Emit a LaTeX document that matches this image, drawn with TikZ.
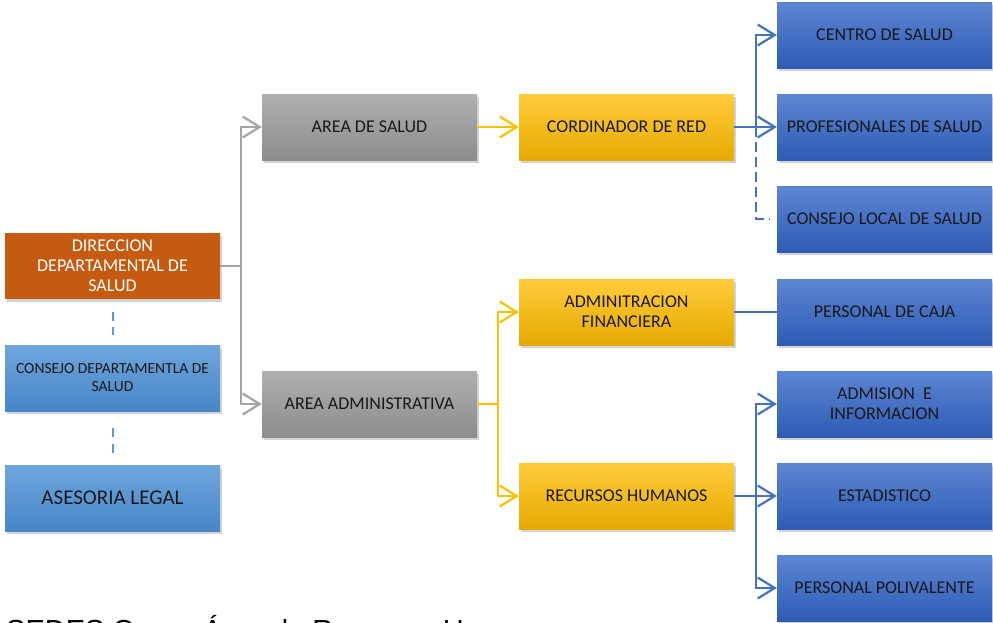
\documentclass[tikz,border=0pt]{standalone}
\usepackage{fontspec}
\setmainfont{Carlito}
\newfontfamily\piefont{Liberation Sans}
\usetikzlibrary{arrows.meta,shadows}

\definecolor{naranja}{HTML}{C55A11}
\definecolor{grisA}{HTML}{B0B0B0}
\definecolor{grisB}{HTML}{8C8C8C}
\definecolor{oroA}{HTML}{FFCB3A}
\definecolor{oroM}{HTML}{FFC000}
\definecolor{oroB}{HTML}{E5AB00}
\definecolor{azulA}{HTML}{5D86D3}
\definecolor{azulM}{HTML}{4472C4}
\definecolor{azulB}{HTML}{2E5BB5}
\definecolor{celesteA}{HTML}{6FA6DD}
\definecolor{celesteB}{HTML}{4786C8}
\definecolor{lineagris}{HTML}{A5A5A5}
\definecolor{lineaazul}{HTML}{4472C4}
\definecolor{lineaceleste}{HTML}{5B9BD5}

\begin{document}
\begin{tikzpicture}[x=1pt,y=-1pt,
	caja/.style={minimum width=215pt,minimum height=66pt,inner sep=2pt,align=center,
		text=black!90,font=\fontsize{18}{20}\selectfont,
		drop shadow={shadow xshift=2pt,shadow yshift=-3pt,opacity=0.35}},
	cajagris/.style={caja,top color=grisA,bottom color=grisB},
	cajaoro/.style={caja,top color=oroA,middle color=oroM,bottom color=oroB},
	cajaazul/.style={caja,top color=azulA,middle color=azulM,bottom color=azulB},
	cajaceleste/.style={caja,top color=celesteA,bottom color=celesteB},
	flecha/.style={-{Straight Barb[length=17pt,width=21pt,line width=2.2pt]}},
	lgris/.style={draw=lineagris,line width=2.2pt},
	loro/.style={draw=oroM,line width=2.2pt},
	lazul/.style={draw=lineaazul,line width=2.2pt}
]
\useasboundingbox (0,0) rectangle (993,622);
\clip (0,0) rectangle (993,622);

% columna izquierda
\node[caja,fill=naranja,text=white] (dir) at (112.5,266) {DIRECCION\\DEPARTAMENTAL DE\\SALUD};
\node[cajaceleste,font=\fontsize{15.5}{18}\selectfont] (cdep) at (112.5,378) {CONSEJO DEPARTAMENTLA DE\\SALUD};
\node[cajaceleste,font=\fontsize{21}{24}\selectfont] (legal) at (112.5,498) {ASESORIA LEGAL};

\draw[lineaceleste,line width=2pt,dash pattern=on 9pt off 6pt] ([yshift=-13pt]dir.south) -- ([yshift=10pt]cdep.north);
\draw[lineaceleste,line width=2pt,dash pattern=on 9pt off 7pt] ([yshift=-17pt]cdep.south) -- ([yshift=12pt]legal.north);

% areas
\node[cajagris] (asalud) at (369.5,127) {AREA DE SALUD};
\node[cajagris] (aadm) at (369.5,404) {AREA ADMINISTRATIVA};

\draw[lgris] (dir.east) -- ++(21,0) coordinate (g1);
\foreach \n in {asalud,aadm} {
	\draw[lgris,flecha] (g1) |- (\n.west);
}

% coordinaciones
\node[cajaoro] (coord) at (626.5,127) {CORDINADOR DE RED};
\node[cajaoro] (finan) at (626.5,312) {ADMINITRACION\\FINANCIERA};
\node[cajaoro] (rrhh) at (626.5,496) {RECURSOS HUMANOS};

\draw[loro,flecha] (asalud.east) -- (coord.west);
\draw[loro] (aadm.east) -- ++(21,0) coordinate (y1);
\foreach \n in {finan,rrhh} {
	\draw[loro,flecha] (y1) |- (\n.west);
}

% unidades
\node[cajaazul] (centro) at (884.5,35) {CENTRO DE SALUD};
\node[cajaazul] (prof) at (884.5,127) {PROFESIONALES DE SALUD};
\node[cajaazul] (clocal) at (884.5,219) {CONSEJO LOCAL DE SALUD};
\node[cajaazul] (caja) at (884.5,312) {PERSONAL DE CAJA};
\node[cajaazul] (admis) at (884.5,404) {ADMISION\ \ E\\INFORMACION};
\node[cajaazul] (estad) at (884.5,496) {ESTADISTICO};
\node[cajaazul] (poliv) at (884.5,588) {PERSONAL POLIVALENTE};

\draw[lazul] (coord.east) -- ++(22,0) coordinate (b1);
\foreach \n in {centro,prof} {
	\draw[lazul,flecha] (b1) |- (\n.west);
}
\draw[lazul,dash pattern=on 10pt off 5pt] (b1) |- ([xshift=-7pt]clocal.west);

\draw[lazul] (finan.east) -- (caja.west);

\draw[lazul] (rrhh.east) -- ++(22,0) coordinate (b2);
\foreach \n in {admis,estad,poliv} {
	\draw[lazul,flecha] (b2) |- (\n.west);
}

% pie cortado
\node[anchor=base west,inner sep=0,font=\piefont\fontsize{29}{34}\selectfont] (pie) at (6,640) {SEDES Oruro, Área de Recursos Humanos};

\end{tikzpicture}
\end{document}
